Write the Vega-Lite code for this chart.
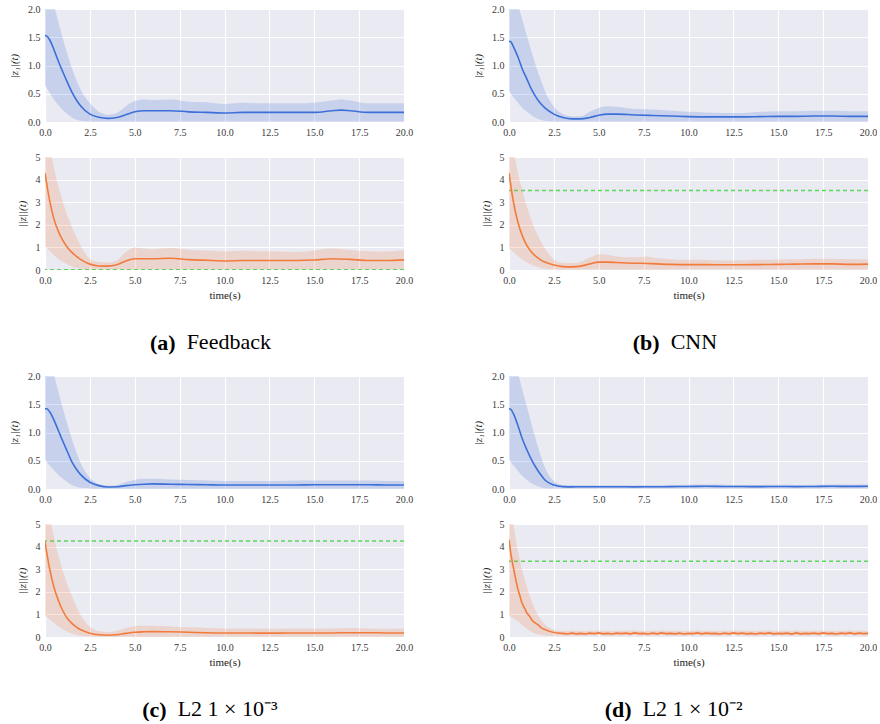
{
"$schema": "https://vega.github.io/schema/vega-lite/v6.json",
"padding": {"top": 4, "left": 8, "right": 0, "bottom": 0},
"config": {
 "font": "Liberation Serif",
 "view": {"fill": "#EAEAF2", "stroke": null},
 "style": {"guide-label": {"font": "Liberation Serif"}, "guide-title": {"font": "Liberation Serif"}},
 "axis": {"grid": true, "gridColor": "#ffffff", "gridWidth": 1.1, "domain": false, "ticks": false, "labelFont": "Liberation Serif", "labelFontSize": 10, "labelColor": "#3a3a3a", "labelPadding": 5, "titleFont": "Liberation Serif", "titleFontSize": 11, "titleFontWeight": "normal", "titleColor": "#222222", "labelFlush": false, "labelOverlap": false},
 "axisX": {"titlePadding": 4},
 "axisY": {"titlePadding": 8},
 "title": {"orient": "bottom", "anchor": "middle", "font": "Liberation Serif", "fontSize": 22, "color": "#000000"}
},
"datasets": {
 "ref": [{"panel": "a", "v": 0.01}, {"panel": "b", "v": 3.52}, {"panel": "c", "v": 4.25}, {"panel": "d", "v": 3.35}],
 "a_top": [
  {"t":0,"m":1.53,"lo":0.65,"hi":2.7},{"t":0.1,"m":1.52,"lo":0.6,"hi":2.58},{"t":0.25,"m":1.46,"lo":0.52,"hi":2.4},{"t":0.5,"m":1.28,"lo":0.4,"hi":2.07},{"t":0.75,"m":1.07,"lo":0.3,"hi":1.76},{"t":1,"m":0.88,"lo":0.21,"hi":1.47},{"t":1.25,"m":0.7,"lo":0.14,"hi":1.2},{"t":1.5,"m":0.53,"lo":0.08,"hi":0.95},{"t":1.75,"m":0.39,"lo":0.04,"hi":0.74},{"t":2,"m":0.28,"lo":0.02,"hi":0.56},{"t":2.5,"m":0.14,"lo":0.01,"hi":0.33},{"t":3,"m":0.085,"lo":0.01,"hi":0.18},{"t":3.5,"m":0.065,"lo":0.01,"hi":0.13},{"t":4,"m":0.08,"lo":0.01,"hi":0.16},{"t":4.5,"m":0.13,"lo":0.01,"hi":0.28},{"t":5,"m":0.18,"lo":0.01,"hi":0.37},{"t":5.5,"m":0.2,"lo":0.01,"hi":0.4},{"t":6,"m":0.2,"lo":0.01,"hi":0.39},{"t":7,"m":0.2,"lo":0.01,"hi":0.4},{"t":8,"m":0.18,"lo":0.01,"hi":0.36},{"t":9,"m":0.17,"lo":0.01,"hi":0.35},{"t":10,"m":0.16,"lo":0.01,"hi":0.32},{"t":11,"m":0.17,"lo":0.01,"hi":0.34},{"t":12,"m":0.17,"lo":0.01,"hi":0.33},{"t":13,"m":0.17,"lo":0.01,"hi":0.33},{"t":14,"m":0.17,"lo":0.01,"hi":0.33},{"t":15,"m":0.17,"lo":0.01,"hi":0.34},{"t":16,"m":0.2,"lo":0.01,"hi":0.38},{"t":16.5,"m":0.21,"lo":0.01,"hi":0.4},{"t":17,"m":0.2,"lo":0.01,"hi":0.38},{"t":18,"m":0.17,"lo":0.01,"hi":0.33},{"t":19,"m":0.17,"lo":0.01,"hi":0.33},{"t":20,"m":0.17,"lo":0.01,"hi":0.33}
 ],
 "a_bot": [
  {"t":0,"m":4.3,"lo":1.05,"hi":6.5},{"t":0.25,"m":3.1,"lo":0.85,"hi":5.5},{"t":0.5,"m":2.25,"lo":0.65,"hi":4.5},{"t":0.75,"m":1.7,"lo":0.48,"hi":3.7},{"t":1,"m":1.3,"lo":0.35,"hi":3.0},{"t":1.25,"m":1.0,"lo":0.24,"hi":2.4},{"t":1.5,"m":0.78,"lo":0.15,"hi":1.9},{"t":1.75,"m":0.6,"lo":0.09,"hi":1.45},{"t":2,"m":0.46,"lo":0.06,"hi":1.05},{"t":2.5,"m":0.26,"lo":0.03,"hi":0.5},{"t":3,"m":0.18,"lo":0.03,"hi":0.35},{"t":3.5,"m":0.17,"lo":0.03,"hi":0.33},{"t":4,"m":0.23,"lo":0.03,"hi":0.43},{"t":4.5,"m":0.4,"lo":0.03,"hi":0.8},{"t":5,"m":0.5,"lo":0.03,"hi":1.0},{"t":5.5,"m":0.5,"lo":0.03,"hi":0.95},{"t":6,"m":0.5,"lo":0.03,"hi":0.92},{"t":7,"m":0.52,"lo":0.03,"hi":0.97},{"t":8,"m":0.46,"lo":0.03,"hi":0.9},{"t":9,"m":0.43,"lo":0.03,"hi":0.86},{"t":10,"m":0.4,"lo":0.03,"hi":0.82},{"t":11,"m":0.42,"lo":0.03,"hi":0.85},{"t":12,"m":0.42,"lo":0.03,"hi":0.83},{"t":13,"m":0.42,"lo":0.03,"hi":0.82},{"t":14,"m":0.42,"lo":0.03,"hi":0.8},{"t":15,"m":0.44,"lo":0.03,"hi":0.86},{"t":16,"m":0.5,"lo":0.03,"hi":0.95},{"t":17,"m":0.47,"lo":0.03,"hi":0.88},{"t":18,"m":0.42,"lo":0.03,"hi":0.83},{"t":19,"m":0.42,"lo":0.03,"hi":0.82},{"t":20,"m":0.45,"lo":0.03,"hi":0.88}
 ],
 "b_top": [
  {"t":0,"m":1.43,"lo":0.55,"hi":2.6},{"t":0.1,"m":1.42,"lo":0.5,"hi":2.49},{"t":0.25,"m":1.33,"lo":0.44,"hi":2.35},{"t":0.5,"m":1.15,"lo":0.34,"hi":2.08},{"t":0.75,"m":0.93,"lo":0.25,"hi":1.8},{"t":1,"m":0.76,"lo":0.18,"hi":1.52},{"t":1.25,"m":0.58,"lo":0.12,"hi":1.25},{"t":1.5,"m":0.44,"lo":0.07,"hi":0.99},{"t":1.75,"m":0.33,"lo":0.04,"hi":0.76},{"t":2,"m":0.25,"lo":0.02,"hi":0.55},{"t":2.5,"m":0.14,"lo":0.01,"hi":0.27},{"t":3,"m":0.08,"lo":0.01,"hi":0.14},{"t":3.5,"m":0.055,"lo":0.01,"hi":0.1},{"t":4,"m":0.055,"lo":0.01,"hi":0.1},{"t":4.5,"m":0.08,"lo":0.01,"hi":0.18},{"t":5,"m":0.12,"lo":0.01,"hi":0.25},{"t":5.5,"m":0.14,"lo":0.01,"hi":0.28},{"t":6,"m":0.14,"lo":0.01,"hi":0.27},{"t":7,"m":0.125,"lo":0.01,"hi":0.23},{"t":8,"m":0.115,"lo":0.01,"hi":0.22},{"t":9,"m":0.105,"lo":0.01,"hi":0.2},{"t":10,"m":0.095,"lo":0.01,"hi":0.18},{"t":11,"m":0.09,"lo":0.01,"hi":0.17},{"t":12,"m":0.09,"lo":0.01,"hi":0.16},{"t":13,"m":0.09,"lo":0.01,"hi":0.16},{"t":14,"m":0.095,"lo":0.01,"hi":0.18},{"t":15,"m":0.1,"lo":0.01,"hi":0.19},{"t":16,"m":0.1,"lo":0.01,"hi":0.19},{"t":17,"m":0.105,"lo":0.01,"hi":0.2},{"t":18,"m":0.105,"lo":0.01,"hi":0.2},{"t":19,"m":0.1,"lo":0.01,"hi":0.19},{"t":20,"m":0.1,"lo":0.01,"hi":0.19}
 ],
 "b_bot": [
  {"t":0,"m":4.3,"lo":0.95,"hi":6.5},{"t":0.25,"m":3.0,"lo":0.8,"hi":5.3},{"t":0.5,"m":2.1,"lo":0.62,"hi":4.3},{"t":0.75,"m":1.5,"lo":0.46,"hi":3.5},{"t":1,"m":1.08,"lo":0.33,"hi":2.8},{"t":1.25,"m":0.8,"lo":0.23,"hi":2.2},{"t":1.5,"m":0.6,"lo":0.15,"hi":1.7},{"t":1.75,"m":0.45,"lo":0.1,"hi":1.3},{"t":2,"m":0.35,"lo":0.06,"hi":0.95},{"t":2.5,"m":0.22,"lo":0.03,"hi":0.47},{"t":3,"m":0.15,"lo":0.02,"hi":0.32},{"t":3.5,"m":0.14,"lo":0.02,"hi":0.3},{"t":4,"m":0.17,"lo":0.02,"hi":0.36},{"t":4.5,"m":0.27,"lo":0.02,"hi":0.55},{"t":5,"m":0.35,"lo":0.02,"hi":0.7},{"t":5.5,"m":0.35,"lo":0.02,"hi":0.68},{"t":6,"m":0.33,"lo":0.02,"hi":0.6},{"t":7,"m":0.3,"lo":0.02,"hi":0.56},{"t":7.7,"m":0.29,"lo":0.02,"hi":0.6},{"t":8,"m":0.28,"lo":0.02,"hi":0.55},{"t":9,"m":0.25,"lo":0.02,"hi":0.48},{"t":10,"m":0.24,"lo":0.02,"hi":0.45},{"t":10.7,"m":0.24,"lo":0.02,"hi":0.47},{"t":11,"m":0.24,"lo":0.02,"hi":0.44},{"t":12,"m":0.23,"lo":0.02,"hi":0.42},{"t":13,"m":0.23,"lo":0.02,"hi":0.43},{"t":14,"m":0.24,"lo":0.02,"hi":0.45},{"t":15,"m":0.25,"lo":0.02,"hi":0.47},{"t":16,"m":0.26,"lo":0.02,"hi":0.48},{"t":17,"m":0.27,"lo":0.02,"hi":0.5},{"t":18,"m":0.27,"lo":0.02,"hi":0.5},{"t":19,"m":0.25,"lo":0.02,"hi":0.48},{"t":20,"m":0.26,"lo":0.02,"hi":0.48}
 ],
 "c_top": [
  {"t":0,"m":1.42,"lo":0.52,"hi":2.6},{"t":0.1,"m":1.42,"lo":0.48,"hi":2.48},{"t":0.25,"m":1.37,"lo":0.42,"hi":2.3},{"t":0.5,"m":1.22,"lo":0.33,"hi":2.02},{"t":0.75,"m":1.03,"lo":0.25,"hi":1.72},{"t":1,"m":0.84,"lo":0.18,"hi":1.42},{"t":1.25,"m":0.66,"lo":0.12,"hi":1.14},{"t":1.5,"m":0.48,"lo":0.07,"hi":0.88},{"t":1.75,"m":0.35,"lo":0.04,"hi":0.65},{"t":2,"m":0.25,"lo":0.02,"hi":0.45},{"t":2.5,"m":0.12,"lo":0.01,"hi":0.2},{"t":3,"m":0.06,"lo":0.005,"hi":0.09},{"t":3.5,"m":0.035,"lo":0.005,"hi":0.06},{"t":4,"m":0.04,"lo":0.005,"hi":0.07},{"t":4.5,"m":0.06,"lo":0.005,"hi":0.12},{"t":5,"m":0.075,"lo":0.005,"hi":0.16},{"t":5.5,"m":0.085,"lo":0.005,"hi":0.18},{"t":6,"m":0.09,"lo":0.005,"hi":0.18},{"t":7,"m":0.085,"lo":0.005,"hi":0.17},{"t":8,"m":0.08,"lo":0.005,"hi":0.16},{"t":9,"m":0.075,"lo":0.005,"hi":0.15},{"t":10,"m":0.07,"lo":0.005,"hi":0.14},{"t":11,"m":0.07,"lo":0.005,"hi":0.14},{"t":12,"m":0.07,"lo":0.005,"hi":0.14},{"t":13,"m":0.07,"lo":0.005,"hi":0.14},{"t":14,"m":0.072,"lo":0.005,"hi":0.15},{"t":15,"m":0.075,"lo":0.005,"hi":0.15},{"t":16,"m":0.075,"lo":0.005,"hi":0.15},{"t":17,"m":0.075,"lo":0.005,"hi":0.15},{"t":18,"m":0.075,"lo":0.005,"hi":0.15},{"t":19,"m":0.072,"lo":0.005,"hi":0.14},{"t":20,"m":0.07,"lo":0.005,"hi":0.14}
 ],
 "c_bot": [
  {"t":0,"m":4.2,"lo":0.95,"hi":6.5},{"t":0.25,"m":3.05,"lo":0.8,"hi":5.4},{"t":0.5,"m":2.2,"lo":0.62,"hi":4.4},{"t":0.75,"m":1.6,"lo":0.46,"hi":3.6},{"t":1,"m":1.15,"lo":0.33,"hi":2.9},{"t":1.25,"m":0.82,"lo":0.23,"hi":2.3},{"t":1.5,"m":0.6,"lo":0.15,"hi":1.8},{"t":1.75,"m":0.44,"lo":0.09,"hi":1.35},{"t":2,"m":0.32,"lo":0.05,"hi":0.95},{"t":2.5,"m":0.17,"lo":0.02,"hi":0.45},{"t":3,"m":0.1,"lo":0.01,"hi":0.25},{"t":3.5,"m":0.08,"lo":0.01,"hi":0.22},{"t":4,"m":0.1,"lo":0.01,"hi":0.28},{"t":4.5,"m":0.16,"lo":0.01,"hi":0.4},{"t":5,"m":0.21,"lo":0.01,"hi":0.48},{"t":5.5,"m":0.23,"lo":0.01,"hi":0.5},{"t":6,"m":0.24,"lo":0.01,"hi":0.5},{"t":7,"m":0.23,"lo":0.01,"hi":0.47},{"t":8,"m":0.21,"lo":0.01,"hi":0.43},{"t":9,"m":0.19,"lo":0.01,"hi":0.4},{"t":10,"m":0.18,"lo":0.01,"hi":0.38},{"t":11,"m":0.18,"lo":0.01,"hi":0.38},{"t":12,"m":0.17,"lo":0.01,"hi":0.37},{"t":13,"m":0.17,"lo":0.01,"hi":0.37},{"t":14,"m":0.18,"lo":0.01,"hi":0.38},{"t":15,"m":0.18,"lo":0.01,"hi":0.38},{"t":16,"m":0.18,"lo":0.01,"hi":0.38},{"t":17,"m":0.19,"lo":0.01,"hi":0.4},{"t":18,"m":0.19,"lo":0.01,"hi":0.38},{"t":19,"m":0.18,"lo":0.01,"hi":0.37},{"t":20,"m":0.18,"lo":0.01,"hi":0.38}
 ],
 "d_top": [
  {"t":0,"m":1.42,"lo":0.52,"hi":2.6},{"t":0.1,"m":1.41,"lo":0.48,"hi":2.48},{"t":0.25,"m":1.33,"lo":0.42,"hi":2.33},{"t":0.5,"m":1.12,"lo":0.32,"hi":2.05},{"t":0.75,"m":0.88,"lo":0.23,"hi":1.75},{"t":1,"m":0.69,"lo":0.16,"hi":1.45},{"t":1.25,"m":0.52,"lo":0.1,"hi":1.15},{"t":1.5,"m":0.38,"lo":0.06,"hi":0.87},{"t":1.75,"m":0.26,"lo":0.03,"hi":0.6},{"t":2,"m":0.16,"lo":0.015,"hi":0.38},{"t":2.5,"m":0.07,"lo":0.01,"hi":0.14},{"t":3,"m":0.042,"lo":0.01,"hi":0.07},{"t":3.5,"m":0.038,"lo":0.01,"hi":0.065},{"t":4,"m":0.04,"lo":0.01,"hi":0.065},{"t":5,"m":0.04,"lo":0.01,"hi":0.066},{"t":6,"m":0.04,"lo":0.01,"hi":0.065},{"t":7,"m":0.038,"lo":0.01,"hi":0.064},{"t":8,"m":0.04,"lo":0.01,"hi":0.066},{"t":9,"m":0.042,"lo":0.01,"hi":0.07},{"t":10,"m":0.045,"lo":0.01,"hi":0.075},{"t":11,"m":0.048,"lo":0.01,"hi":0.078},{"t":12,"m":0.045,"lo":0.01,"hi":0.074},{"t":13,"m":0.043,"lo":0.01,"hi":0.07},{"t":14,"m":0.042,"lo":0.01,"hi":0.07},{"t":15,"m":0.045,"lo":0.01,"hi":0.074},{"t":16,"m":0.042,"lo":0.01,"hi":0.07},{"t":17,"m":0.045,"lo":0.01,"hi":0.075},{"t":18,"m":0.048,"lo":0.01,"hi":0.078},{"t":19,"m":0.046,"lo":0.01,"hi":0.076},{"t":20,"m":0.048,"lo":0.01,"hi":0.078}
 ],
 "d_bot": [
  {"t":0,"m":4.3,"lo":0.95,"hi":6.5},{"t":0.1,"m":3.7,"lo":0.9,"hi":5.8},{"t":0.2,"m":3.25,"lo":0.85,"hi":5.2},{"t":0.3,"m":2.85,"lo":0.8,"hi":4.7},{"t":0.4,"m":2.45,"lo":0.75,"hi":4.2},{"t":0.5,"m":2.1,"lo":0.7,"hi":3.8},{"t":0.6,"m":1.85,"lo":0.62,"hi":3.4},{"t":0.7,"m":1.55,"lo":0.55,"hi":3.05},{"t":0.8,"m":1.38,"lo":0.48,"hi":2.75},{"t":0.9,"m":1.22,"lo":0.42,"hi":2.45},{"t":1.0,"m":1.05,"lo":0.36,"hi":2.2},{"t":1.1,"m":0.97,"lo":0.3,"hi":1.95},{"t":1.2,"m":0.85,"lo":0.25,"hi":1.72},{"t":1.3,"m":0.72,"lo":0.2,"hi":1.52},{"t":1.4,"m":0.66,"lo":0.17,"hi":1.32},{"t":1.5,"m":0.6,"lo":0.14,"hi":1.15},{"t":1.6,"m":0.55,"lo":0.12,"hi":1.0},{"t":1.7,"m":0.48,"lo":0.1,"hi":0.86},{"t":1.8,"m":0.4,"lo":0.09,"hi":0.74},{"t":1.9,"m":0.36,"lo":0.08,"hi":0.63},{"t":2.0,"m":0.33,"lo":0.07,"hi":0.55},{"t":2.2,"m":0.27,"lo":0.06,"hi":0.43},{"t":2.4,"m":0.22,"lo":0.05,"hi":0.35},{"t":2.6,"m":0.19,"lo":0.05,"hi":0.3},{"t":2.8,"m":0.17,"lo":0.05,"hi":0.28},{"t":3.0,"m":0.16,"lo":0.05,"hi":0.27},
  {"t":3.25,"m":0.13,"lo":0.04,"hi":0.25},{"t":3.5,"m":0.17,"lo":0.07,"hi":0.29},{"t":3.75,"m":0.14,"lo":0.05,"hi":0.26},{"t":4,"m":0.16,"lo":0.07,"hi":0.28},{"t":4.25,"m":0.13,"lo":0.04,"hi":0.25},{"t":4.5,"m":0.17,"lo":0.08,"hi":0.29},{"t":4.75,"m":0.15,"lo":0.06,"hi":0.27},{"t":5,"m":0.18,"lo":0.08,"hi":0.3},{"t":5.25,"m":0.14,"lo":0.05,"hi":0.26},{"t":5.5,"m":0.16,"lo":0.07,"hi":0.28},{"t":5.75,"m":0.13,"lo":0.04,"hi":0.25},{"t":6,"m":0.17,"lo":0.08,"hi":0.29},{"t":6.25,"m":0.15,"lo":0.06,"hi":0.27},{"t":6.5,"m":0.17,"lo":0.08,"hi":0.29},{"t":6.75,"m":0.14,"lo":0.05,"hi":0.26},{"t":7,"m":0.18,"lo":0.08,"hi":0.3},{"t":7.25,"m":0.15,"lo":0.06,"hi":0.27},{"t":7.5,"m":0.16,"lo":0.07,"hi":0.28},{"t":7.75,"m":0.13,"lo":0.04,"hi":0.25},{"t":8,"m":0.17,"lo":0.08,"hi":0.29},{"t":8.25,"m":0.14,"lo":0.05,"hi":0.26},{"t":8.5,"m":0.18,"lo":0.08,"hi":0.3},{"t":8.75,"m":0.15,"lo":0.06,"hi":0.27},{"t":9,"m":0.16,"lo":0.07,"hi":0.28},{"t":9.25,"m":0.14,"lo":0.05,"hi":0.26},{"t":9.5,"m":0.17,"lo":0.08,"hi":0.29},{"t":9.75,"m":0.13,"lo":0.04,"hi":0.25},{"t":10,"m":0.16,"lo":0.07,"hi":0.28},{"t":10.25,"m":0.15,"lo":0.06,"hi":0.27},{"t":10.5,"m":0.18,"lo":0.08,"hi":0.3},{"t":10.75,"m":0.14,"lo":0.05,"hi":0.26},{"t":11,"m":0.17,"lo":0.08,"hi":0.29},{"t":11.25,"m":0.15,"lo":0.06,"hi":0.27},{"t":11.5,"m":0.16,"lo":0.07,"hi":0.28},{"t":11.75,"m":0.13,"lo":0.04,"hi":0.25},{"t":12,"m":0.17,"lo":0.08,"hi":0.29},{"t":12.25,"m":0.14,"lo":0.05,"hi":0.26},{"t":12.5,"m":0.18,"lo":0.08,"hi":0.3},{"t":12.75,"m":0.15,"lo":0.06,"hi":0.27},{"t":13,"m":0.17,"lo":0.08,"hi":0.29},{"t":13.25,"m":0.14,"lo":0.05,"hi":0.26},{"t":13.5,"m":0.16,"lo":0.07,"hi":0.28},{"t":13.75,"m":0.13,"lo":0.04,"hi":0.25},{"t":14,"m":0.17,"lo":0.08,"hi":0.29},{"t":14.25,"m":0.15,"lo":0.06,"hi":0.27},{"t":14.5,"m":0.18,"lo":0.08,"hi":0.3},{"t":14.75,"m":0.14,"lo":0.05,"hi":0.26},{"t":15,"m":0.16,"lo":0.07,"hi":0.28},{"t":15.25,"m":0.15,"lo":0.06,"hi":0.27},{"t":15.5,"m":0.17,"lo":0.08,"hi":0.29},{"t":15.75,"m":0.13,"lo":0.04,"hi":0.25},{"t":16,"m":0.18,"lo":0.08,"hi":0.3},{"t":16.25,"m":0.14,"lo":0.05,"hi":0.26},{"t":16.5,"m":0.16,"lo":0.07,"hi":0.28},{"t":16.75,"m":0.15,"lo":0.06,"hi":0.27},{"t":17,"m":0.17,"lo":0.08,"hi":0.29},{"t":17.25,"m":0.14,"lo":0.05,"hi":0.26},{"t":17.5,"m":0.18,"lo":0.08,"hi":0.3},{"t":17.75,"m":0.15,"lo":0.06,"hi":0.27},{"t":18,"m":0.16,"lo":0.07,"hi":0.28},{"t":18.25,"m":0.13,"lo":0.04,"hi":0.25},{"t":18.5,"m":0.17,"lo":0.08,"hi":0.29},{"t":18.75,"m":0.15,"lo":0.06,"hi":0.27},{"t":19,"m":0.18,"lo":0.08,"hi":0.3},{"t":19.25,"m":0.14,"lo":0.05,"hi":0.26},{"t":19.5,"m":0.17,"lo":0.08,"hi":0.29},{"t":19.75,"m":0.15,"lo":0.06,"hi":0.27},{"t":20,"m":0.16,"lo":0.07,"hi":0.28}
 ]
},
"spacing": 17,
"vconcat": [
 {"hconcat": [
  {"title": {"text": "Feedback", "fontWeight": "normal", "align": "left", "dx": -24, "offset": -22},
   "vconcat": [
   {"title": {"text": "(a)", "fontWeight": "bold", "align": "right", "dx": -35, "offset": 33},
    "spacing": 15,
    "vconcat": [
    {"width": 359, "height": 113, "data": {"name": "a_top"},
     "layer": [
      {"mark": {"type": "area", "color": "#3d6fd9", "opacity": 0.2, "clip": true, "interpolate": "monotone"},
       "encoding": {"x": {"field": "t", "type": "quantitative", "scale": {"domain": [0, 20], "nice": false}, "axis": {"values": [0,2.5,5,7.5,10,12.5,15,17.5,20], "format": ".1f", "title": null}},
                    "y": {"field": "lo", "type": "quantitative", "scale": {"domain": [0, 2], "nice": false}, "axis": {"values": [0,0.5,1,1.5,2], "format": ".1f", "title": "|z₁|(t)", "titleFontStyle": "italic"}},
                    "y2": {"field": "hi"}}},
      {"mark": {"type": "line", "color": "#3d6fd9", "strokeWidth": 1.6, "clip": true, "interpolate": "monotone"},
       "encoding": {"x": {"field": "t", "type": "quantitative", "scale": {"domain": [0, 20], "nice": false}, "axis": {"values": [0,2.5,5,7.5,10,12.5,15,17.5,20], "format": ".1f", "title": null}},
                    "y": {"field": "m", "type": "quantitative", "scale": {"domain": [0, 2], "nice": false}, "axis": {"values": [0,0.5,1,1.5,2], "format": ".1f", "title": "|z₁|(t)", "titleFontStyle": "italic"}}}}
     ]},
    {"width": 359, "height": 113, "data": {"name": "a_bot"},
     "layer": [
      {"data": {"name": "ref"}, "transform": [{"filter": "datum.panel === 'a'"}],
       "mark": {"type": "rule", "color": "#5cd65c", "strokeDash": [4, 3], "strokeWidth": 1.5, "clip": true},
       "encoding": {"y": {"field": "v", "type": "quantitative", "scale": {"domain": [0, 5], "nice": false}, "axis": {"values": [0,1,2,3,4,5], "format": "d", "title": "||z||(t)", "titleFontStyle": "italic"}}}},
      {"mark": {"type": "area", "color": "#f27b3c", "opacity": 0.2, "clip": true, "interpolate": "monotone"},
       "encoding": {"x": {"field": "t", "type": "quantitative", "scale": {"domain": [0, 20], "nice": false}, "axis": {"values": [0,2.5,5,7.5,10,12.5,15,17.5,20], "format": ".1f", "title": "time(s)"}},
                    "y": {"field": "lo", "type": "quantitative", "scale": {"domain": [0, 5], "nice": false}, "axis": {"values": [0,1,2,3,4,5], "format": "d", "title": "||z||(t)", "titleFontStyle": "italic"}},
                    "y2": {"field": "hi"}}},
      {"mark": {"type": "line", "color": "#f27b3c", "strokeWidth": 1.6, "clip": true, "interpolate": "monotone"},
       "encoding": {"x": {"field": "t", "type": "quantitative", "scale": {"domain": [0, 20], "nice": false}, "axis": {"values": [0,2.5,5,7.5,10,12.5,15,17.5,20], "format": ".1f", "title": "time(s)"}},
                    "y": {"field": "m", "type": "quantitative", "scale": {"domain": [0, 5], "nice": false}, "axis": {"values": [0,1,2,3,4,5], "format": "d", "title": "||z||(t)", "titleFontStyle": "italic"}}}}
     ]}
   ]}]},
  {"title": {"text": "CNN", "fontWeight": "normal", "align": "left", "dx": -4, "offset": -22},
   "vconcat": [
   {"title": {"text": "(b)", "fontWeight": "bold", "align": "right", "dx": -15, "offset": 33},
    "spacing": 15,
    "vconcat": [
    {"width": 359, "height": 113, "data": {"name": "b_top"},
     "layer": [
      {"mark": {"type": "area", "color": "#3d6fd9", "opacity": 0.2, "clip": true, "interpolate": "monotone"},
       "encoding": {"x": {"field": "t", "type": "quantitative", "scale": {"domain": [0, 20], "nice": false}, "axis": {"values": [0,2.5,5,7.5,10,12.5,15,17.5,20], "format": ".1f", "title": null}},
                    "y": {"field": "lo", "type": "quantitative", "scale": {"domain": [0, 2], "nice": false}, "axis": {"values": [0,0.5,1,1.5,2], "format": ".1f", "title": "|z₁|(t)", "titleFontStyle": "italic"}},
                    "y2": {"field": "hi"}}},
      {"mark": {"type": "line", "color": "#3d6fd9", "strokeWidth": 1.6, "clip": true, "interpolate": "monotone"},
       "encoding": {"x": {"field": "t", "type": "quantitative", "scale": {"domain": [0, 20], "nice": false}, "axis": {"values": [0,2.5,5,7.5,10,12.5,15,17.5,20], "format": ".1f", "title": null}},
                    "y": {"field": "m", "type": "quantitative", "scale": {"domain": [0, 2], "nice": false}, "axis": {"values": [0,0.5,1,1.5,2], "format": ".1f", "title": "|z₁|(t)", "titleFontStyle": "italic"}}}}
     ]},
    {"width": 359, "height": 113, "data": {"name": "b_bot"},
     "layer": [
      {"data": {"name": "ref"}, "transform": [{"filter": "datum.panel === 'b'"}],
       "mark": {"type": "rule", "color": "#5cd65c", "strokeDash": [4, 3], "strokeWidth": 1.5, "clip": true},
       "encoding": {"y": {"field": "v", "type": "quantitative", "scale": {"domain": [0, 5], "nice": false}, "axis": {"values": [0,1,2,3,4,5], "format": "d", "title": "||z||(t)", "titleFontStyle": "italic"}}}},
      {"mark": {"type": "area", "color": "#f27b3c", "opacity": 0.2, "clip": true, "interpolate": "monotone"},
       "encoding": {"x": {"field": "t", "type": "quantitative", "scale": {"domain": [0, 20], "nice": false}, "axis": {"values": [0,2.5,5,7.5,10,12.5,15,17.5,20], "format": ".1f", "title": "time(s)"}},
                    "y": {"field": "lo", "type": "quantitative", "scale": {"domain": [0, 5], "nice": false}, "axis": {"values": [0,1,2,3,4,5], "format": "d", "title": "||z||(t)", "titleFontStyle": "italic"}},
                    "y2": {"field": "hi"}}},
      {"mark": {"type": "line", "color": "#f27b3c", "strokeWidth": 1.6, "clip": true, "interpolate": "monotone"},
       "encoding": {"x": {"field": "t", "type": "quantitative", "scale": {"domain": [0, 20], "nice": false}, "axis": {"values": [0,2.5,5,7.5,10,12.5,15,17.5,20], "format": ".1f", "title": "time(s)"}},
                    "y": {"field": "m", "type": "quantitative", "scale": {"domain": [0, 5], "nice": false}, "axis": {"values": [0,1,2,3,4,5], "format": "d", "title": "||z||(t)", "titleFontStyle": "italic"}}}}
     ]}
   ]}]}
 ], "spacing": 59},
 {"hconcat": [
  {"title": {"text": "L2 1 × 10⁻³", "fontWeight": "normal", "align": "left", "dx": -33, "offset": -22},
   "vconcat": [
   {"title": {"text": "(c)", "fontWeight": "bold", "align": "right", "dx": -44, "offset": 33},
    "spacing": 15,
    "vconcat": [
    {"width": 359, "height": 113, "data": {"name": "c_top"},
     "layer": [
      {"mark": {"type": "area", "color": "#3d6fd9", "opacity": 0.2, "clip": true, "interpolate": "monotone"},
       "encoding": {"x": {"field": "t", "type": "quantitative", "scale": {"domain": [0, 20], "nice": false}, "axis": {"values": [0,2.5,5,7.5,10,12.5,15,17.5,20], "format": ".1f", "title": null}},
                    "y": {"field": "lo", "type": "quantitative", "scale": {"domain": [0, 2], "nice": false}, "axis": {"values": [0,0.5,1,1.5,2], "format": ".1f", "title": "|z₁|(t)", "titleFontStyle": "italic"}},
                    "y2": {"field": "hi"}}},
      {"mark": {"type": "line", "color": "#3d6fd9", "strokeWidth": 1.6, "clip": true, "interpolate": "monotone"},
       "encoding": {"x": {"field": "t", "type": "quantitative", "scale": {"domain": [0, 20], "nice": false}, "axis": {"values": [0,2.5,5,7.5,10,12.5,15,17.5,20], "format": ".1f", "title": null}},
                    "y": {"field": "m", "type": "quantitative", "scale": {"domain": [0, 2], "nice": false}, "axis": {"values": [0,0.5,1,1.5,2], "format": ".1f", "title": "|z₁|(t)", "titleFontStyle": "italic"}}}}
     ]},
    {"width": 359, "height": 113, "data": {"name": "c_bot"},
     "layer": [
      {"data": {"name": "ref"}, "transform": [{"filter": "datum.panel === 'c'"}],
       "mark": {"type": "rule", "color": "#5cd65c", "strokeDash": [4, 3], "strokeWidth": 1.5, "clip": true},
       "encoding": {"y": {"field": "v", "type": "quantitative", "scale": {"domain": [0, 5], "nice": false}, "axis": {"values": [0,1,2,3,4,5], "format": "d", "title": "||z||(t)", "titleFontStyle": "italic"}}}},
      {"mark": {"type": "area", "color": "#f27b3c", "opacity": 0.2, "clip": true, "interpolate": "monotone"},
       "encoding": {"x": {"field": "t", "type": "quantitative", "scale": {"domain": [0, 20], "nice": false}, "axis": {"values": [0,2.5,5,7.5,10,12.5,15,17.5,20], "format": ".1f", "title": "time(s)"}},
                    "y": {"field": "lo", "type": "quantitative", "scale": {"domain": [0, 5], "nice": false}, "axis": {"values": [0,1,2,3,4,5], "format": "d", "title": "||z||(t)", "titleFontStyle": "italic"}},
                    "y2": {"field": "hi"}}},
      {"mark": {"type": "line", "color": "#f27b3c", "strokeWidth": 1.6, "clip": true, "interpolate": "monotone"},
       "encoding": {"x": {"field": "t", "type": "quantitative", "scale": {"domain": [0, 20], "nice": false}, "axis": {"values": [0,2.5,5,7.5,10,12.5,15,17.5,20], "format": ".1f", "title": "time(s)"}},
                    "y": {"field": "m", "type": "quantitative", "scale": {"domain": [0, 5], "nice": false}, "axis": {"values": [0,1,2,3,4,5], "format": "d", "title": "||z||(t)", "titleFontStyle": "italic"}}}}
     ]}
   ]}]},
  {"title": {"text": "L2 1 × 10⁻²", "fontWeight": "normal", "align": "left", "dx": -32, "offset": -22},
   "vconcat": [
   {"title": {"text": "(d)", "fontWeight": "bold", "align": "right", "dx": -43, "offset": 33},
    "spacing": 15,
    "vconcat": [
    {"width": 359, "height": 113, "data": {"name": "d_top"},
     "layer": [
      {"mark": {"type": "area", "color": "#3d6fd9", "opacity": 0.2, "clip": true, "interpolate": "monotone"},
       "encoding": {"x": {"field": "t", "type": "quantitative", "scale": {"domain": [0, 20], "nice": false}, "axis": {"values": [0,2.5,5,7.5,10,12.5,15,17.5,20], "format": ".1f", "title": null}},
                    "y": {"field": "lo", "type": "quantitative", "scale": {"domain": [0, 2], "nice": false}, "axis": {"values": [0,0.5,1,1.5,2], "format": ".1f", "title": "|z₁|(t)", "titleFontStyle": "italic"}},
                    "y2": {"field": "hi"}}},
      {"mark": {"type": "line", "color": "#3d6fd9", "strokeWidth": 1.6, "clip": true, "interpolate": "monotone"},
       "encoding": {"x": {"field": "t", "type": "quantitative", "scale": {"domain": [0, 20], "nice": false}, "axis": {"values": [0,2.5,5,7.5,10,12.5,15,17.5,20], "format": ".1f", "title": null}},
                    "y": {"field": "m", "type": "quantitative", "scale": {"domain": [0, 2], "nice": false}, "axis": {"values": [0,0.5,1,1.5,2], "format": ".1f", "title": "|z₁|(t)", "titleFontStyle": "italic"}}}}
     ]},
    {"width": 359, "height": 113, "data": {"name": "d_bot"},
     "layer": [
      {"data": {"name": "ref"}, "transform": [{"filter": "datum.panel === 'd'"}],
       "mark": {"type": "rule", "color": "#5cd65c", "strokeDash": [4, 3], "strokeWidth": 1.5, "clip": true},
       "encoding": {"y": {"field": "v", "type": "quantitative", "scale": {"domain": [0, 5], "nice": false}, "axis": {"values": [0,1,2,3,4,5], "format": "d", "title": "||z||(t)", "titleFontStyle": "italic"}}}},
      {"mark": {"type": "area", "color": "#f27b3c", "opacity": 0.2, "clip": true, "interpolate": "linear"},
       "encoding": {"x": {"field": "t", "type": "quantitative", "scale": {"domain": [0, 20], "nice": false}, "axis": {"values": [0,2.5,5,7.5,10,12.5,15,17.5,20], "format": ".1f", "title": "time(s)"}},
                    "y": {"field": "lo", "type": "quantitative", "scale": {"domain": [0, 5], "nice": false}, "axis": {"values": [0,1,2,3,4,5], "format": "d", "title": "||z||(t)", "titleFontStyle": "italic"}},
                    "y2": {"field": "hi"}}},
      {"mark": {"type": "line", "color": "#f27b3c", "strokeWidth": 1.6, "clip": true, "interpolate": "linear"},
       "encoding": {"x": {"field": "t", "type": "quantitative", "scale": {"domain": [0, 20], "nice": false}, "axis": {"values": [0,2.5,5,7.5,10,12.5,15,17.5,20], "format": ".1f", "title": "time(s)"}},
                    "y": {"field": "m", "type": "quantitative", "scale": {"domain": [0, 5], "nice": false}, "axis": {"values": [0,1,2,3,4,5], "format": "d", "title": "||z||(t)", "titleFontStyle": "italic"}}}}
     ]}
   ]}]}
 ], "spacing": 59}
]
}
